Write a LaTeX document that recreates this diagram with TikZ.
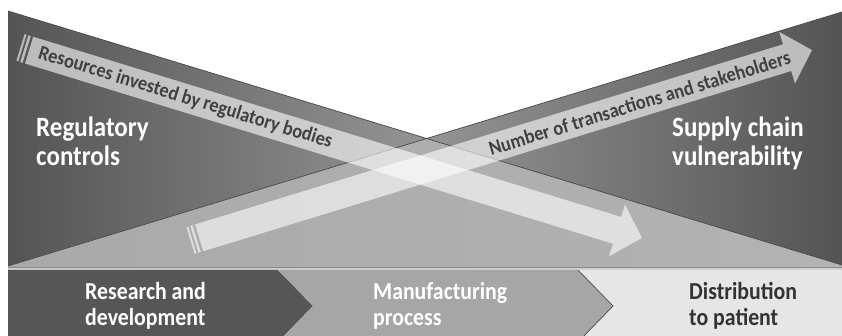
\documentclass[tikz,border=0pt]{standalone}
\usepackage{graphicx}
\usepackage{fontspec}
\setmainfont{Carlito}
\definecolor{gdark}{HTML}{545454}
\definecolor{gmid}{HTML}{ACACAC}
\definecolor{glight}{HTML}{D4D4D4}
\definecolor{wedgeL}{HTML}{A9A9A9}
\definecolor{wedgeR}{HTML}{B3B3B3}
\definecolor{edgec}{HTML}{474747}
\definecolor{chevA}{HTML}{565656}
\definecolor{chevB}{HTML}{A6A6A6}
\definecolor{chevC}{HTML}{E6E6E6}
\definecolor{arrtext}{HTML}{404040}
\definecolor{darktext}{HTML}{333333}
\definecolor{sepline}{HTML}{8A8A8A}
\definecolor{sepband}{HTML}{CFCFCF}
\newcommand{\tallstack}[1]{\scalebox{1}[1.12]{\begin{tabular}[b]{@{}l@{}}#1\end{tabular}}}
\newcommand{\tallline}[1]{\scalebox{1}[1.1]{#1}}
\begin{document}
\begin{tikzpicture}[x=1pt,y=-1pt,
  biglabel/.style={text=white, font=\bfseries\fontsize{25}{26}\selectfont, inner sep=0pt, anchor=base west},
  steplabel/.style={font=\bfseries\fontsize{21.8}{22.8}\selectfont, inner sep=0pt, anchor=base west},
  arrtxt/.style={text=arrtext, font=\bfseries\fontsize{18.4}{20}\selectfont, inner sep=0pt},
  arrowfill/.style={fill=white, fill opacity=0.6},
  slant/.style={draw=edgec, line width=0.7pt}]
\useasboundingbox (0,0) rectangle (842,336);
\clip (0,0) rectangle (842,336);
\fill[white] (0,0) rectangle (842,336);

% corner points of the two triangles
\coordinate (TL) at (8,11);
\coordinate (BL) at (8,267);
\coordinate (BLtip) at (8,266);
\coordinate (TR) at (842,12);
\coordinate (BR) at (842,267);
\coordinate (BRtip) at (842,265);
\coordinate (X) at (intersection of TL--BRtip and BLtip--TR);

% left triangle (regulatory controls)
\shade[left color=gdark, middle color=gmid, right color=glight] (TL) -- (BRtip) -- (BR) -- (BL) -- cycle;
% right triangle (supply chain vulnerability)
\shade[left color=glight, middle color=gmid, right color=gdark] (TR) -- (BR) -- (BL) -- (BLtip) -- cycle;
% overlap wedge
\shade[left color=wedgeL, right color=wedgeR] (BLtip) -- (X) -- (BRtip) -- (BR) -- (BL) -- cycle;
\draw[slant] (TL) -- (BRtip);
\draw[slant] (BLtip) -- (TR);

% separator
\fill[sepband] (8,267) rectangle (842,270);
\draw[sepline, line width=1.3pt] (8,267.8) -- (842,267.8);

% chevrons
\fill[chevA] (8,270) -- (278,270) -- (313,306) -- (278,342) -- (8,342) -- cycle;
\fill[chevB] (278,270) -- (578,270) -- (613,306) -- (578,342) -- (278,342) -- (313,306) -- cycle;
\fill[chevC] (578,270) -- (842,270) -- (842,342) -- (578,342) -- (613,306) -- cycle;
\draw[edgec, line width=0.7pt] (578,270) -- (613,306) -- (578,342);

% arrow 1: resources invested by regulatory bodies
\begin{scope}[shift={(20.5,47.5)}, rotate=-17.04]
  \fill[arrowfill] (0,-14) rectangle (2,14);
  \fill[arrowfill] (4,-14) rectangle (6.5,14);
  \fill[arrowfill] (9,-14) -- (624,-14) -- (624,-27) -- (650,0) -- (624,27) -- (624,14) -- (9,14) -- cycle;
  \node[arrtxt, anchor=west, rotate=-17.04] (resources) at (19,0) {\tallline{Resources invested by regulatory bodies}};
\end{scope}

% arrow 2: number of transactions and stakeholders
\begin{scope}[shift={(190.5,240.5)}, rotate=17.04]
  \fill[arrowfill] (0,-14) rectangle (2,14);
  \fill[arrowfill] (4,-14) rectangle (6.5,14);
  \fill[arrowfill] (9,-14) -- (624,-14) -- (624,-27) -- (650,0) -- (624,27) -- (624,14) -- (9,14) -- cycle;
  \node[arrtxt, anchor=east, rotate=17.04] (transactions) at (627,0) {\tallline{Number of transactions and stakeholders}};
\end{scope}

% labels (anchor = baseline of the last line)
\node[biglabel] (regulatory) at (36,166) {\tallstack{Regulatory\\controls}};
\node[biglabel] (supply) at (672,166) {\tallstack{Supply chain\\vulnerability}};

\node[steplabel, text=white] (research) at (85,325.5) {\tallstack{Research and\\development}};
\node[steplabel, text=white] (manufacturing) at (373,325.5) {\tallstack{Manufacturing\\process}};
\node[steplabel, text=darktext] (distribution) at (689,325.5) {\tallstack{Distribution\\to patient}};
\end{tikzpicture}
\end{document}
